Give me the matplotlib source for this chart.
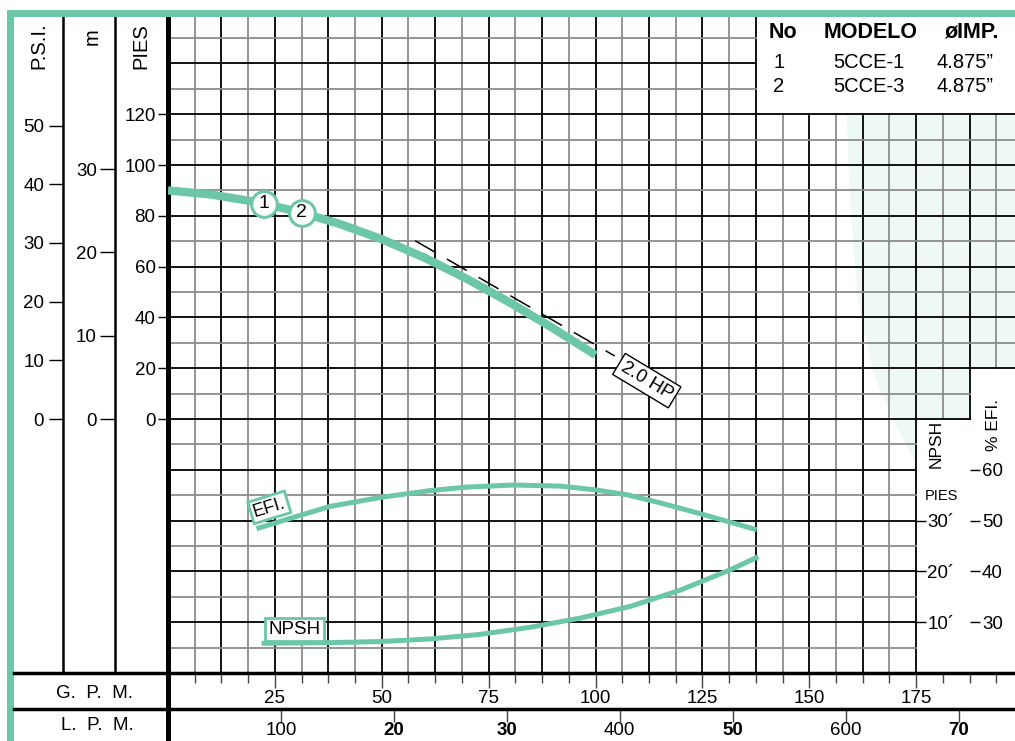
import numpy as np
import matplotlib.pyplot as plt
from matplotlib.lines import Line2D
from matplotlib.patches import Polygon, Rectangle

plt.rcParams['font.family'] = ['Liberation Sans', 'DejaVu Sans']

# curva de carga (GPM vs PIES)
head_gpm = [0, 10, 20, 30, 40, 50, 60, 70, 80, 90, 100]
head_ft = [90, 88.4, 85.6, 81.8, 76.9, 70.8, 63.5, 55.1, 45.8, 35.8, 25.2]

# linea de potencia 2.0 HP
hp_gpm = [57.8, 104.5]
hp_ft = [70.2, 24.8]

# eficiencia (%)
efi_gpm = [20.7, 30, 37.9, 50, 61.3, 70, 80.7, 91.7, 99.5, 107.3, 115.1, 125.2, 137.7]
efi_pct = [48.4, 50.8, 52.8, 54.6, 55.9, 56.6, 57.0, 56.8, 56.1, 55.1, 53.5, 51.2, 48.2]

# NPSH (pies)
npsh_gpm = [21.9, 37.9, 50, 61.3, 73, 84.7, 96.4, 108.1, 119.8, 131.5, 138.1]
npsh_ft = [5.85, 5.97, 6.2, 6.7, 7.6, 9.0, 10.8, 13.1, 16.3, 20.3, 22.9]

model_no = ['1', '2']
model_name = ['5CCE-1', '5CCE-3']
model_imp = ['4.875”', '4.875”']
model_mark_gpm = [22.5, 31.3]

pies_ticks = [0, 20, 40, 60, 80, 100, 120]
psi_ticks = [0, 10, 20, 30, 40, 50]
m_ticks = [0, 10, 20, 30]
npsh_ticks = [10, 20, 30]
npsh_labels = ['10´', '20´', '30´']
efi_ticks = [30, 40, 50, 60]
gpm_ticks = [25, 50, 75, 100, 125, 150, 175]
lpm_ticks = [100, 200, 300, 400, 500, 600, 700]
lpm_labels = ['100', '20', '30', '400', '50', '600', '70']
lpm_bold = [False, True, True, False, True, False, True]

GREEN = '#6cc6a8'
GRAY = '#8c8c8c'
FS = 13.5

# geometria en pixeles
W, H = 1015, 741
X0, PXG = 168, 4.275      # GPM 0, px por GPM
Y0, PXF = 419, 2.54       # PIES 0, px por pie
TOP, BOT = 16, 673


def box(xl, xr, yt, yb):
    return [xl / W, 1 - yb / H, (xr - xl) / W, (yb - yt) / H]


fig = plt.figure(figsize=(W / 100, H / 100), dpi=100)

xmax = (W - X0) / PXG
ymax = (Y0 - TOP) / PXF
ymin = -(BOT - Y0) / PXF

# --- grafica principal ---
ax = fig.add_axes(box(X0, W, TOP, BOT))
ax.set_xlim(0, xmax)
ax.set_ylim(ymin, ymax)
for s in ['top', 'right', 'bottom']:
    ax.spines[s].set_visible(False)
ax.spines['left'].set_linewidth(3.6)
ax.set_xticks([])
ax.set_yticks(pies_ticks)
ax.tick_params(axis='y', direction='out', length=7, width=1, pad=2, labelsize=FS)

# zona de la cuadricula (escalonada a la derecha)
grid_zone = Polygon([(0, ymin), (175, ymin), (175, 0), (187.5, 0), (187.5, 20),
                     (xmax, 20), (xmax, 120), (137.5, 120), (137.5, ymax), (0, ymax)],
                    closed=True, transform=ax.transData, facecolor='none', edgecolor='none')
ax.add_patch(grid_zone)
mark = Polygon([(163, 175), (158.8, 119.7), (159.5, 86.2), (161.4, 46.9), (164.7, 19.3),
                (169.6, -0.4), (175.2, -18.1), (180.6, -39.8), (230, -100), (230, 175)],
               closed=True, facecolor='#eef8f4', edgecolor='none', zorder=0)
ax.add_patch(mark)
mark.set_clip_path(grid_zone)

for k in range(1, 32):
    x = k * 6.25
    top = 120 if x > 137.5 else ymax
    bot = 20 if x > 187.5 else (0 if x > 175 else ymin)
    ax.plot([x, x], [bot, top], color='black' if k % 2 == 0 else GRAY, lw=1.3, zorder=1)
for v in range(-90, 160, 10):
    if v > 120:
        right = 137.5
    elif v >= 20:
        right = xmax
    elif v >= 0:
        right = 187.5
    else:
        right = 175
    ax.plot([0, right], [v, v], color='black' if v % 20 == 0 else GRAY, lw=1.3, zorder=1)

ax.plot(hp_gpm, hp_ft, color='black', lw=1.1, ls=(0, (15, 9)), zorder=2)
ax.plot(head_gpm, head_ft, color=GREEN, lw=6, solid_capstyle='butt',
        solid_joinstyle='round', zorder=3)
mark_ft = np.interp(model_mark_gpm, head_gpm, head_ft)
ax.plot(model_mark_gpm, mark_ft, 'o', ms=18.5, mfc='white', mec=GREEN, mew=2.2, zorder=4)
for g, h, n in zip(model_mark_gpm, mark_ft, model_no):
    ax.text(g, h, n, ha='center', va='center', fontsize=14, zorder=5)
ax.text(112, 15.1, '2.0 HP', rotation=-31, rotation_mode='anchor', ha='center', va='center',
        fontsize=FS, zorder=5,
        bbox=dict(boxstyle='square,pad=0.2', facecolor='white', edgecolor='black', lw=1))

# --- P.S.I. y m ---
ax_psi = fig.add_axes(box(63, 115, TOP, BOT), facecolor='none')
ax_psi.set_ylim(ymin / 2.31, ymax / 2.31)
ax_m = fig.add_axes(box(115, X0, TOP, BOT), facecolor='none')
ax_m.set_ylim(ymin * 0.3048, ymax * 0.3048)
for a, t, ln, pd in [(ax_psi, psi_ticks, 10, 3.5), (ax_m, m_ticks, 10.5, 2.5)]:
    for s in ['top', 'right', 'bottom']:
        a.spines[s].set_visible(False)
    a.spines['left'].set_linewidth(1.8)
    a.set_xticks([])
    a.set_yticks(t)
    a.tick_params(axis='y', direction='out', length=ln, width=1, pad=pd, labelsize=FS)

# --- EFI. ---
ax_efi = fig.add_axes(box(X0, X0 + 187.5 * PXG, TOP, BOT), facecolor='none')
ax_efi.set_xlim(0, 187.5)
ax_efi.set_ylim((ymin + 140) / 2, (ymax + 140) / 2)
ax_efi.set_frame_on(False)
ax_efi.set_xticks([])
ax_efi.yaxis.tick_right()
ax_efi.set_yticks(efi_ticks)
ax_efi.tick_params(axis='y', direction='out', length=7, width=1, pad=2, labelsize=FS)
ax_efi.plot(efi_gpm, efi_pct, color=GREEN, lw=3.6, solid_capstyle='butt',
            solid_joinstyle='round')
ax_efi.text(23.7, 52.6, 'EFI.', rotation=17, rotation_mode='anchor', ha='center', va='center',
            fontsize=13,
            bbox=dict(boxstyle='square,pad=0.15', facecolor='white', edgecolor=GREEN, lw=2))

# --- NPSH ---
ax_np = fig.add_axes(box(X0, X0 + 175 * PXG, TOP, BOT), facecolor='none')
ax_np.set_xlim(0, 175)
ax_np.set_ylim((ymin + 100) / 2, (ymax + 100) / 2)
ax_np.set_frame_on(False)
ax_np.set_xticks([])
ax_np.yaxis.tick_right()
ax_np.set_yticks(npsh_ticks, npsh_labels)
ax_np.tick_params(axis='y', direction='out', length=7, width=1, pad=1, labelsize=FS)
ax_np.plot(npsh_gpm, npsh_ft, color=GREEN, lw=3.6, solid_capstyle='butt',
           solid_joinstyle='round')
ax_np.text(29.5, 8.56, 'NPSH', ha='center', va='center', fontsize=FS,
           bbox=dict(boxstyle='square,pad=0.18', facecolor='white', edgecolor=GREEN, lw=2))

# --- bandas G.P.M. / L.P.M. ---
ax_g = fig.add_axes(box(X0, W, BOT, 709), facecolor='none')
ax_g.set_xlim(0, xmax)
ax_g.set_yticks([])
ax_g.set_xticks(gpm_ticks, [])
ax_g.set_xticks(np.arange(6.25, 195, 6.25), minor=True)
ax_g.xaxis.set_ticks_position('top')
ax_g.tick_params(axis='x', which='major', direction='in', length=11, width=1, color='#444')
ax_g.tick_params(axis='x', which='minor', direction='in', length=7.2, width=1, color='#444')
for v in gpm_ticks:
    ax_g.text(v, 0.28, str(v), transform=ax_g.get_xaxis_transform(), ha='center', va='center',
              fontsize=FS)

ax_l = fig.add_axes(box(X0, W, 709, H), facecolor='none')
ax_l.set_xlim(0, xmax * 3.785)
ax_l.set_yticks([])
ax_l.set_xticks(lpm_ticks, [])
ax_l.xaxis.set_ticks_position('top')
ax_l.tick_params(axis='x', direction='in', length=9, width=1, color='#444')
for v, lab, b in zip(lpm_ticks, lpm_labels, lpm_bold):
    ax_l.text(v, 0.34, lab, transform=ax_l.get_xaxis_transform(), ha='center', va='center',
              fontsize=FS, fontweight='bold' if b else 'normal')

for a in [ax_g, ax_l]:
    for s in ['top', 'right', 'bottom']:
        a.spines[s].set_visible(False)
    a.spines['left'].set_linewidth(3.6)

for y in [BOT, 709]:
    fig.add_artist(Line2D([14 / W, 1], [1 - y / H, 1 - y / H], transform=fig.transFigure,
                          color='black', lw=2.5))

# marco verde
fig.add_artist(Rectangle((7 / W, 1 - 17 / H), 1, 7 / H, transform=fig.transFigure,
                         facecolor=GREEN, edgecolor='none'))
fig.add_artist(Rectangle((7 / W, 0), 7 / W, 1 - 10 / H, transform=fig.transFigure,
                         facecolor=GREEN, edgecolor='none'))

# textos de columnas
fig.text(38.5 / W, 1 - 46 / H, 'P.S.I.', rotation=90, ha='center', va='center', fontsize=14.5)
fig.text(92 / W, 1 - 37 / H, 'm', rotation=90, ha='center', va='center', fontsize=14.5)
fig.text(141 / W, 1 - 46 / H, 'PIES', rotation=90, ha='center', va='center', fontsize=14.5)
fig.text(94 / W, 1 - 693 / H, 'G.  P.  M.', ha='center', va='center', fontsize=FS)
fig.text(97 / W, 1 - 725 / H, 'L.  P.  M.', ha='center', va='center', fontsize=FS)
fig.text(936 / W, 1 - 444 / H, 'NPSH', rotation=90, ha='center', va='center', fontsize=12.5)
fig.text(994 / W, 1 - 425 / H, '% EFI.', rotation=90, ha='center', va='center', fontsize=12.5)
fig.text(941 / W, 1 - 496 / H, 'PIES', ha='center', va='center', fontsize=10.5)

# tabla de modelos
for x, t in [(783, 'No'), (871, 'MODELO'), (972, 'øIMP.')]:
    fig.text(x / W, 1 - 32 / H, t, ha='center', va='center', fontsize=15.5, fontweight='bold')
for i, y in enumerate([63, 87]):
    fig.text(779 / W, 1 - y / H, model_no[i], ha='center', va='center', fontsize=14.5)
    fig.text(869 / W, 1 - y / H, model_name[i], ha='center', va='center', fontsize=14.5)
    fig.text(965 / W, 1 - y / H, model_imp[i], ha='center', va='center', fontsize=14.5)

fig.savefig('out.png', dpi=100)
